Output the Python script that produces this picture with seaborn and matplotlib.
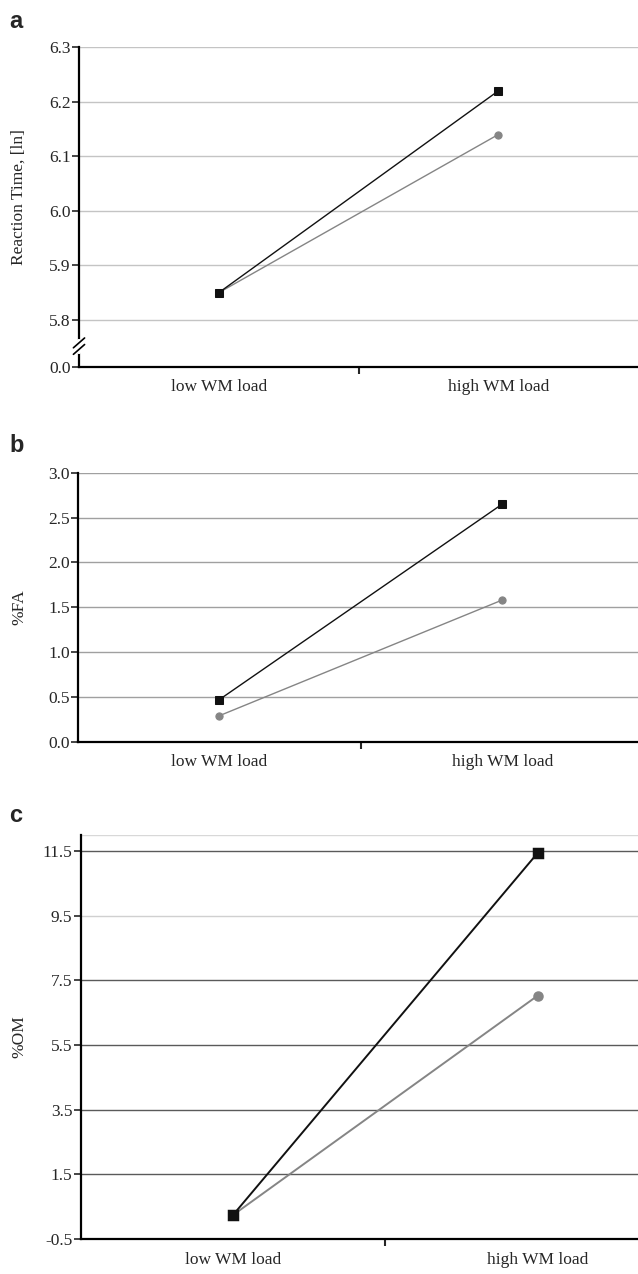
import matplotlib
matplotlib.use('Agg')
import matplotlib.pyplot as plt
import seaborn as sns
import pandas as pd

# values
loads = ['low WM load', 'high WM load']
groups = ['grey', 'black']
rt_black = [5.85, 6.22]
rt_grey = [5.85, 6.14]
fa_black = [0.47, 2.65]
fa_grey = [0.29, 1.58]
om_black = [0.24, 11.43]
om_grey = [0.24, 7.02]

rt_ticks = [6.3, 6.2, 6.1, 6.0, 5.9, 5.8]
fa_ticks = [0.0, 0.5, 1.0, 1.5, 2.0, 2.5, 3.0]
om_ticks = [-0.5, 1.5, 3.5, 5.5, 7.5, 9.5, 11.5]


def make_df(black, grey):
    return pd.DataFrame({
        'load': loads * 2,
        'value': grey + black,
        'group': [groups[0]] * 2 + [groups[1]] * 2,
    })


sns.set_style('white')
plt.rcParams['font.family'] = ['Liberation Serif', 'DejaVu Serif']

W, H = 638, 1274
fig = plt.figure(figsize=(W / 100, H / 100), dpi=100)


def px_axes(left, top, right, bottom):
    return fig.add_axes([left / W, 1 - bottom / H, (right - left) / W, (bottom - top) / H])


palette = {'grey': '#858585', 'black': '#111111'}


def draw(ax, df, ms, lw, grid_col):
    sns.pointplot(data=df, x='load', y='value', hue='group', order=loads,
                  hue_order=groups, palette=palette, markers=['o', 's'],
                  linestyles=['-', '-'], markersize=ms, linewidth=lw,
                  errorbar=None, ax=ax, legend=False)
    for coll in ax.lines:
        coll.set_zorder(3)
    ax.set_xlabel('')
    sns.despine(ax=ax)
    ax.spines['left'].set_linewidth(1.6)
    ax.spines['bottom'].set_linewidth(1.6)
    ax.spines['left'].set_color('black')
    ax.spines['bottom'].set_color('black')
    ax.yaxis.grid(True, color=grid_col, linewidth=1.0)
    ax.set_axisbelow(True)
    ax.tick_params(axis='y', direction='out', length=5, width=1.2, labelsize=12.5,
                   left=True, pad=1)
    ax.tick_params(axis='x', length=0, labelsize=12.5, pad=9)
    ax.set_xticks([0, 1])
    ax.set_xticklabels(loads)
    ax.set_xticks([0.5], minor=True)
    ax.tick_params(axis='x', which='minor', direction='out', length=5, width=1.5, bottom=True)


def place_ylabel(ax, left_px, width_px, ypos=0.5):
    ax.yaxis.set_label_coords((27 - left_px) / width_px, ypos)


# panel a
ax_a = px_axes(79, 47.3, 638, 366.7)
draw(ax_a, make_df(rt_black, rt_grey), 5.2, 1.0, '#c4c4c4')
y0 = 5.8 - 46.7 / 545.0
ax_a.set_ylim(y0, 6.3)
ax_a.set_xlim(-0.5, 1.5)
ax_a.set_yticks([y0] + rt_ticks)
ax_a.set_yticklabels(['0.0'] + ['%.1f' % t for t in rt_ticks])
ax_a.get_ygridlines()[0].set_visible(False)
ax_a.set_ylabel('Reaction Time, [ln]', fontsize=12.5)
place_ylabel(ax_a, 79, 559, 0.53)
# axis break
for dy in (-0.006, 0.006):
    ax_a.plot([-0.01, 0.01], [5.752 + dy - 0.009, 5.752 + dy + 0.009],
              transform=ax_a.get_yaxis_transform(), color='black', lw=1.2,
              clip_on=False, zorder=5)
ax_a.plot([0, 0], [5.742, 5.762], transform=ax_a.get_yaxis_transform(),
          color='white', lw=3, clip_on=False, zorder=4)

# panel b
ax_b = px_axes(78, 472.7, 638, 741.7)
draw(ax_b, make_df(fa_black, fa_grey), 5.2, 1.0, '#a0a0a0')
ax_b.set_ylim(0, 3.0)
ax_b.set_xlim(-0.5, 1.48)
ax_b.set_yticks(fa_ticks)
ax_b.set_yticklabels(['%.1f' % t for t in fa_ticks])
ax_b.get_ygridlines()[0].set_visible(False)
ax_b.set_ylabel('%FA', fontsize=12.5)
place_ylabel(ax_b, 78, 560)

# panel c
ax_c = px_axes(80.7, 834.7, 638, 1239)
draw(ax_c, make_df(om_black, om_grey), 6.5, 1.4, '#5a5a5a')
ax_c.set_ylim(-0.5, 12.0)
ax_c.set_xlim(-0.5, 1.33)
ax_c.set_yticks(om_ticks)
ax_c.set_yticklabels(['%.1f' % t for t in om_ticks])
ax_c.get_ygridlines()[0].set_visible(False)
ax_c.get_ygridlines()[5].set_color('#d0d0d0')
ax_c.axhline(12.0, color='#d8d8d8', lw=1.0, zorder=0)
ax_c.set_ylabel('%OM', fontsize=12.5)
place_ylabel(ax_c, 80.7, 557.3)

for letter, ypx in (('a', 22), ('b', 445), ('c', 815)):
    fig.text(9 / W, 1 - ypx / H, letter, fontsize=17, fontweight='bold',
             family=['Liberation Sans', 'DejaVu Sans'], va='center', ha='left')

fig.savefig('out.png', dpi=100)
